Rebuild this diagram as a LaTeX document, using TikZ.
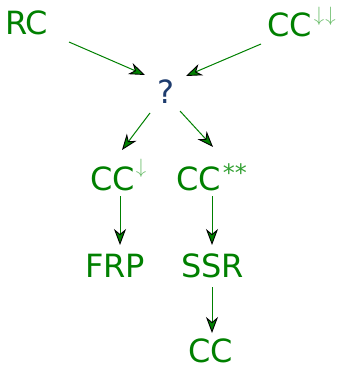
\documentclass[tikz,border=0pt]{standalone}
\usepackage{fontspec}
\setmainfont{DejaVu Sans}
\usetikzlibrary{arrows.meta,calc}
\definecolor{tgreen}{RGB}{0,128,0}
\definecolor{sgreen}{RGB}{110,190,110}
\definecolor{agreen}{RGB}{50,160,50}
\definecolor{qblue}{RGB}{30,60,110}
\tikzset{
  lbl/.style={font=\fontsize{32}{36}\selectfont, text=tgreen, inner sep=0pt, anchor=base west},
  conn/.style={draw=tgreen, line width=1pt, -{Stealth[length=16pt,width=12pt,inset=5pt,fill=tgreen,color=black,line width=0.9pt]}}
}
\newcommand{\supx}[3]{\raisebox{#1}{\textcolor{#2}{#3}}}
\newcommand{\darr}{{\fontsize{20}{24}\selectfont$\downarrow$}}
\begin{document}
\begin{tikzpicture}[x=1pt,y=-1pt]
\useasboundingbox (0,0) rectangle (340,366);
\node[lbl] (rc) at (5,35) {RC};
\node[lbl] (cctop) at (267,37) {CC\kern2pt\supx{15pt}{sgreen}{\darr\kern1pt\darr}};
\node[lbl, text=qblue] (q) at (157,104) {?};
\node[lbl] (ccd) at (90,190) {CC\kern1pt\supx{17pt}{sgreen}{\darr}};
\node[lbl] (ccs) at (176,190) {CC\kern2pt\supx{9pt}{agreen}{\fontsize{24}{28}\selectfont **}};
\node[lbl] (frp) at (85,277) {FRP};
\node[lbl] (ssr) at (181,277) {SSR};
\node[lbl] (cc) at (188,362) {CC};
\draw[conn] ($(rc.base west)+(64,7)$) -- ($(q.base west)+(-12,-29)$);
\draw[conn] ($(cctop.base west)+(-6,7)$) -- ($(q.base west)+(29,-28)$);
\draw[conn] ($(q.base west)+(-7,9)$) -- ($(ccd.base west)+(32,-40)$);
\draw[conn] ($(q.base west)+(23,7)$) -- ($(ccs.base west)+(37,-43)$);
\draw[conn] ($(ccd.base west)+(30,6)$) -- ($(frp.base west)+(35,-32)$);
\draw[conn] ($(ccs.base west)+(36,6)$) -- ($(ssr.base west)+(31,-32)$);
\draw[conn] ($(ssr.base west)+(31,10)$) -- ($(cc.base west)+(24,-29)$);
\end{tikzpicture}
\end{document}
